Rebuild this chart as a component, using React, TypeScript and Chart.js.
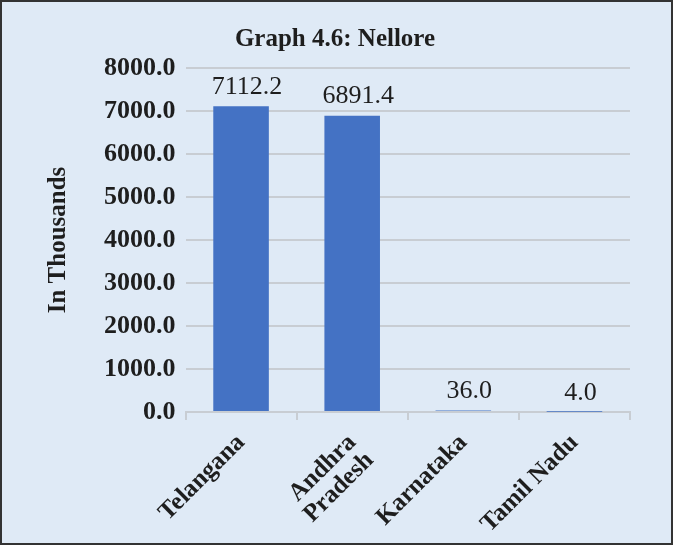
import React, { useEffect, useRef } from "react";
import { Chart, registerables } from "chart.js";

Chart.register(...registerables);

const categories: (string | string[])[] = ["Telangana", ["Andhra", "Pradesh"], "Karnataka", "Tamil Nadu"];
const values: number[] = [7112.2, 6891.4, 36.0, 4.0];
const chartTitle = "Graph 4.6: Nellore";
const yAxisTitle = "In Thousands";

const FONT = "Liberation Serif, Times New Roman, serif";

const dataLabelPlugin = {
  id: "dataLabels",
  afterDatasetsDraw(chart: any) {
    const ctx = chart.ctx;
    const meta = chart.getDatasetMeta(0);
    ctx.save();
    ctx.font = `26px ${FONT}`;
    ctx.fillStyle = "#1e1e1e";
    ctx.textAlign = "center";
    ctx.textBaseline = "bottom";
    meta.data.forEach((bar: any, i: number) => {
      const v = chart.data.datasets[0].data[i] as number;
      ctx.fillText(v.toFixed(1), bar.x + 6, bar.y - 6);
    });
    ctx.restore();
  },
};

export default function App() {
  const ref = useRef<HTMLCanvasElement | null>(null);
  useEffect(() => {
    document.body.style.margin = "0";
    if (!ref.current) return;
    const chart = new Chart(ref.current, {
      type: "bar",
      data: {
        labels: categories,
        datasets: [
          {
            data: values,
            backgroundColor: "#4472c4",
            barPercentage: 0.5,
            categoryPercentage: 1.0,
          },
        ],
      },
      options: {
        animation: false,
        responsive: false,
        maintainAspectRatio: false,
        devicePixelRatio: 1,
        layout: { padding: { left: 38, right: 41, top: 19, bottom: 2 } },
        plugins: {
          legend: { display: false },
          tooltip: { enabled: false },
          title: {
            display: true,
            text: chartTitle,
            color: "#1e1e1e",
            font: { family: FONT, size: 25, weight: "bold" },
            padding: { top: 4, bottom: 13 },
          },
        },
        scales: {
          x: {
            afterFit: (scale: any) => {
              scale.height = 129;
            },
            grid: {
              display: true,
              drawOnChartArea: false,
              drawTicks: true,
              tickLength: 8,
              color: "#c8cdd3",
              lineWidth: 2,
              offset: true,
            },
            border: { display: true, color: "#c8cdd3", width: 2 },
            ticks: {
              color: "#1e1e1e",
              font: { family: FONT, size: 25, weight: "bold", lineHeight: 1.0 },
              minRotation: 45,
              maxRotation: 45,
              padding: 10,
            },
          },
          y: {
            min: 0,
            max: 8000,
            ticks: {
              stepSize: 1000,
              color: "#1e1e1e",
              font: { family: FONT, size: 26, weight: "bold" },
              padding: 10,
              callback: (v: any) => Number(v).toFixed(1),
            },
            grid: { color: "#c8cdd3", lineWidth: 2, drawTicks: false },
            border: { display: false },
            title: {
              display: true,
              text: yAxisTitle,
              color: "#1e1e1e",
              font: { family: FONT, size: 25, weight: "bold" },
              padding: { bottom: 20 },
            },
          },
        },
      },
      plugins: [dataLabelPlugin],
    });
    return () => chart.destroy();
  }, []);
  return (
    <div
      style={{
        width: 673,
        height: 545,
        boxSizing: "border-box",
        border: "2px solid #333",
        background: "#dfeaf6",
        position: "relative",
      }}
    >
      <canvas ref={ref} width={669} height={541} style={{ display: "block" }} />
    </div>
  );
}
